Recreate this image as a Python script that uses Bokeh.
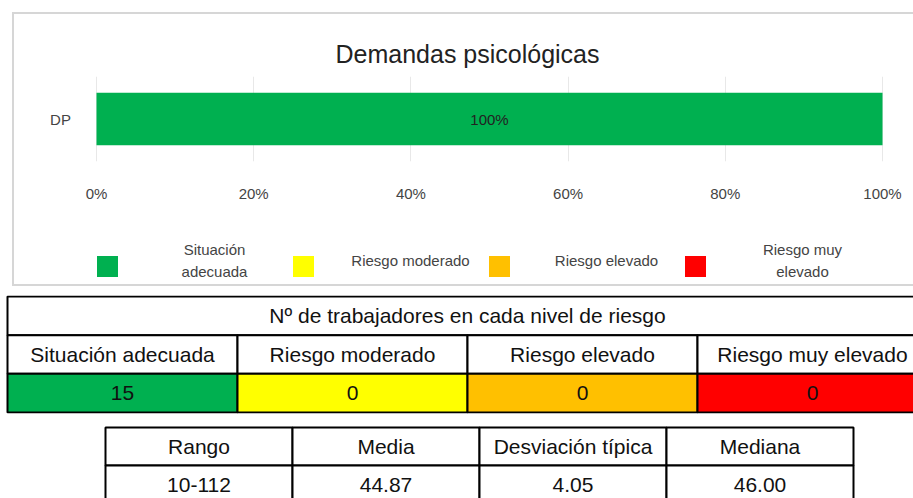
import numpy as np
from bokeh.plotting import figure
from bokeh.models import (ColumnDataSource, Range1d, FactorRange, FixedTicker,
                          PrintfTickFormatter)
from bokeh.layouts import column
from bokeh.embed import file_html
from bokeh.resources import INLINE
from bokeh.core.properties import value

# ---------------- data ----------------
chart_title = "Demandas psicológicas"
categories = ["DP"]
levels = ["Situación adecuada", "Riesgo moderado", "Riesgo elevado", "Riesgo muy elevado"]
legend_labels = ["Situación\nadecuada", "Riesgo moderado", "Riesgo elevado", "Riesgo muy\nelevado"]
level_colors = ["#00B050", "#FFFF00", "#FFC000", "#FF0000"]
percent_values = [100, 0, 0, 0]          # % of workers per level for DP
x_ticks = [0, 20, 40, 60, 80, 100]

table1_title = "Nº de trabajadores en cada nivel de riesgo"
worker_counts = [15, 0, 0, 0]

stats_headers = ["Rango", "Media", "Desviación típica", "Mediana"]
stats_values = ["10-112", "44.87", "4.05", "46.00"]

FONT = "Liberation Sans"
W = 913
BOX = "#d6d6d6"


def box_css(sizes, positions):
    return {
        "background-image": ", ".join([f"linear-gradient({BOX}, {BOX})"] * len(sizes)),
        "background-size": ", ".join(sizes),
        "background-position": ", ".join(positions),
        "background-repeat": "no-repeat",
    }


# ---------------- chart ----------------
H_CHART = 215
px_per_unit = (882 - 96) / 100.0
p = figure(width=W, height=H_CHART, y_range=FactorRange(factors=categories),
           x_range=Range1d(-96 / px_per_unit, (W - 96) / px_per_unit),
           title=chart_title, output_backend="svg", toolbar_location=None,
           min_border_left=0, min_border_right=0, min_border_top=76,
           min_border_bottom=H_CHART - 161,
           styles=box_css(["2px 203px", "901px 2px"], ["12px 12px", "12px 12px"]))
p.outline_line_color = None
p.background_fill_alpha = 0
p.border_fill_alpha = 0

p.title.align = "left"
p.title.offset = 335
p.title.standoff = 18
p.title.text_font = FONT
p.title.text_font_size = "25px"
p.title.text_font_style = "normal"
p.title.text_color = "#222222"

src = ColumnDataSource(dict(cat=categories, **{lv: [v] for lv, v in zip(levels, percent_values)}))
renderers = p.hbar_stack(levels, y="cat", height=0.62, fill_color=level_colors,
                         line_color=None, source=src)

starts = np.cumsum([0] + percent_values[:-1])
lab_src = ColumnDataSource(dict(
    x=[s + v / 2 for s, v in zip(starts, percent_values) if v > 0],
    y=[categories[0] for v in percent_values if v > 0],
    text=[f"{v}%" for v in percent_values if v > 0]))
p.text(x="x", y="y", text="text", source=lab_src, text_align="center",
       text_baseline="middle", text_font=value(FONT), text_font_size="15px",
       text_color="#222222")

# category label (y axis) placed left of the bar origin
cat_src = ColumnDataSource(dict(x=[0] * len(categories), y=categories, text=categories))
p.text(x="x", y="y", text="text", source=cat_src, x_offset=-36, text_align="center",
       text_baseline="middle", text_font=value(FONT), text_font_size="15px",
       text_color="#444444")
p.yaxis.visible = False

p.xaxis.ticker = FixedTicker(ticks=x_ticks)
p.xaxis.formatter = PrintfTickFormatter(format="%d%%")
p.xgrid.ticker = FixedTicker(ticks=x_ticks)
p.xgrid.grid_line_color = "#e8e8e8"
p.ygrid.grid_line_color = None
ax = p.xaxis[0]
ax.axis_line_color = None
ax.major_tick_line_color = None
ax.minor_tick_line_color = None
ax.major_label_text_font = FONT
ax.major_label_text_font_size = "15px"
ax.major_label_text_color = "#444444"
ax.major_label_standoff = 17

# ---------------- legend strip ----------------
H_LEG = 76
pitch = 196.0
lg = figure(width=W, height=H_LEG, output_backend="svg", toolbar_location=None,
            x_range=Range1d(-107 / pitch, (W - 107) / pitch),
            y_range=Range1d(-(H_LEG - 51), 51),
            min_border_left=0, min_border_right=0, min_border_top=0, min_border_bottom=0,
            styles=box_css(["2px 71px", "901px 2px"], ["12px 0px", "12px 69px"]))
lg.outline_line_color = None
lg.background_fill_alpha = 0
lg.border_fill_alpha = 0
lg.axis.visible = False
lg.grid.visible = False
k = len(legend_labels)
leg_src = ColumnDataSource(dict(x=np.arange(k), y=[0] * k, color=level_colors, text=legend_labels))
lg.scatter(x="x", y="y", marker="square", size=21, fill_color="color", line_color=None, source=leg_src)
lg.text(x="x", y="y", text="text", source=leg_src, x_offset=107, y_offset=-6,
        text_align="center", text_baseline="middle", text_font=value(FONT),
        text_font_size="15px", text_line_height=1.3, text_color="#444444")

# ---------------- table 1 ----------------
cw1, rh1 = 230.0, 38.67
t1 = figure(width=W, height=130, output_backend="svg", toolbar_location=None,
            x_range=Range1d(-7 / cw1, (W - 7) / cw1),
            y_range=Range1d(-1 / rh1, 3 + 1 / rh1),
            min_border_left=0, min_border_right=0, min_border_top=4, min_border_bottom=8)
n = len(levels)
idx = np.arange(n)
t1.rect(x=[n / 2], y=[2.5], width=n, height=1, fill_color="white", line_color="black", line_width=2)
t1.rect(x=idx + 0.5, y=[1.5] * n, width=1, height=1, fill_color="white", line_color="black", line_width=2)
t1.rect(x=idx + 0.5, y=[0.5] * n, width=1, height=1, fill_color=level_colors, line_color="black", line_width=2)
t1_txt = ColumnDataSource(dict(
    x=[n / 2] + list(idx + 0.5) + list(idx + 0.5),
    y=[2.5] + [1.5] * n + [0.5] * n,
    text=[table1_title] + levels + [str(c) for c in worker_counts]))
t1.text(x="x", y="y", text="text", source=t1_txt, text_align="center",
        text_baseline="middle", text_font=value(FONT), text_font_size="21px",
        text_color="#111111")

# ---------------- table 2 ----------------
cw2, rh2 = 187.0, 38.0
t2 = figure(width=W, height=77, output_backend="svg", toolbar_location=None,
            x_range=Range1d(-105 / cw2, (W - 105) / cw2),
            y_range=Range1d(2 - 71 / rh2, 2 + 2 / rh2),
            min_border_left=0, min_border_right=0, min_border_top=4, min_border_bottom=0)
m = len(stats_headers)
jdx = np.arange(m)
t2.rect(x=jdx + 0.5, y=[1.5] * m, width=1, height=1, fill_color="white", line_color="black", line_width=2)
t2.rect(x=jdx + 0.5, y=[0.5] * m, width=1, height=1, fill_color="white", line_color="black", line_width=2)
t2_txt = ColumnDataSource(dict(
    x=list(jdx + 0.5) * 2, y=[1.5] * m + [0.5] * m,
    text=stats_headers + stats_values))
t2.text(x="x", y="y", text="text", source=t2_txt, text_align="center",
        text_baseline="middle", text_font=value(FONT), text_font_size="21px",
        text_color="#111111")

for t in (t1, t2):
    t.axis.visible = False
    t.grid.visible = False
    t.outline_line_color = None

layout = column(p, lg, t1, t2, spacing=0)
open("out.html", "w").write(file_html(layout, INLINE))
